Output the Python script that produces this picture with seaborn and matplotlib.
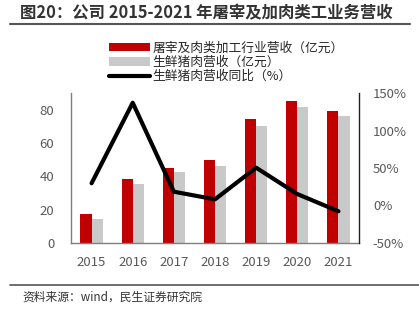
import numpy as np
import pandas as pd
import matplotlib
matplotlib.use("Agg")
import matplotlib.pyplot as plt
import seaborn as sns
from matplotlib.patches import Patch
from matplotlib.lines import Line2D

years = ["2015", "2016", "2017", "2018", "2019", "2020", "2021"]
slaughter_rev = [17.3, 38.2, 45.2, 49.6, 74.4, 85.0, 79.2]
pork_rev = [14.3, 35.2, 42.4, 46.2, 70.0, 81.4, 76.4]
pork_yoy = [29.6, 137.0, 18.4, 8.2, 50.4, 15.3, -7.7]
s1 = "屠宰及肉类加工行业营收（亿元）"
s2 = "生鲜猪肉营收（亿元）"
s3 = "生鲜猪肉营收同比（%）"
left_ticks = [0, 20, 40, 60, 80]
right_ticks = [-50, 0, 50, 100, 150]

sns.set_theme(style="white")
plt.rcParams["font.family"] = ["Noto Sans CJK SC", "DejaVu Sans"]
plt.rcParams["axes.unicode_minus"] = False

red = "#C00000"
grey = "#C9C9C9"
tick_c = "#595959"

df = pd.DataFrame({
    "year": years * 2,
    "value": slaughter_rev + pork_rev,
    "series": [s1] * len(years) + [s2] * len(years),
})

fig = plt.figure(figsize=(4.19, 3.23), dpi=100)
ax = fig.add_axes([71 / 419, 1 - 243 / 323, (359 - 71) / 419, (243 - 93) / 323])
sns.barplot(data=df, x="year", y="value", hue="series", palette=[red, grey],
            width=0.54, ax=ax, legend=False, saturation=1, edgecolor="none")
ax.set_xlim(-0.5, 6.5)
ax.set_ylim(0, 90)
ax.set_yticks(left_ticks)
ax.set_xlabel("")
ax.set_ylabel("")
ax.tick_params(axis="y", labelsize=9.5, colors=tick_c, length=0, pad=12)
ax.tick_params(axis="x", labelsize=9.5, colors=tick_c, length=0, pad=9)
for sp in ["top", "right"]:
    ax.spines[sp].set_visible(False)
for sp in ["left", "bottom"]:
    ax.spines[sp].set_color("#7f7f7f")
    ax.spines[sp].set_linewidth(1.0)

ax2 = ax.twinx()
line_df = pd.DataFrame({"x": np.arange(len(years)), "yoy": pork_yoy})
sns.lineplot(data=line_df, x="x", y="yoy", ax=ax2, color="black", linewidth=3)
ax2.set_ylim(-50, 150)
ax2.set_yticks(right_ticks)
ax2.set_yticklabels([f"{t}%" for t in right_ticks])
ax2.set_ylabel("")
ax2.set_xlim(-0.5, 6.5)
ax2.tick_params(axis="y", labelsize=9.5, colors=tick_c, length=0, pad=10)
for sp in ["top", "left", "bottom"]:
    ax2.spines[sp].set_visible(False)
ax2.spines["right"].set_color("#222222")
ax2.spines["right"].set_linewidth(1.0)

handles = [Patch(facecolor=red, edgecolor="none"),
           Patch(facecolor=grey, edgecolor="none"),
           Line2D([0], [0], color="black", linewidth=3)]
fig.legend(handles, [s1, s2, s3], loc="upper left",
           bbox_to_anchor=(100 / 419, 1 - 33 / 323), frameon=False,
           fontsize=9.2, handlelength=3.2, handleheight=0.6,
           handletextpad=0.2, labelspacing=0.08, borderpad=0.2)

fig.text(20 / 419, 1 - 13 / 323, "图20：公司 2015-2021 年屠宰及加肉类工业务营收",
         fontsize=11.8, fontweight="bold", color="#333333", va="center", ha="left")
fig.add_artist(Line2D([10 / 419, 410 / 419], [1 - 24 / 323, 1 - 24 / 323],
                      color="#555555", linewidth=1.5))
fig.add_artist(Line2D([10 / 419, 419 / 419], [1 - 285 / 323, 1 - 285 / 323],
                      color="#555555", linewidth=1.2))
fig.text(22 / 419, 1 - 297 / 323, "资料来源：wind，民生证券研究院",
         fontsize=8.5, color="#333333", va="center", ha="left")

fig.savefig("out.png", dpi=100)
